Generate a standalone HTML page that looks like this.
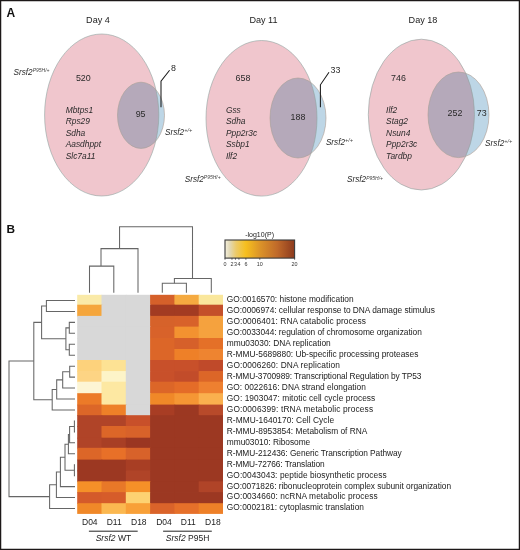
<!DOCTYPE html>
<html><head><meta charset="utf-8"><style>
html,body{margin:0;padding:0;background:#fff;}
body{width:520px;height:550px;overflow:hidden;}
svg{display:block;font-family:"Liberation Sans", sans-serif;will-change:transform;}
</style></head><body>
<svg width="520" height="550" viewBox="0 0 520 550">
<defs><clipPath id="cb0"><ellipse cx="101.7" cy="115" rx="57.1" ry="81"/></clipPath><clipPath id="cb1"><ellipse cx="261.5" cy="118.3" rx="55.5" ry="77.8"/></clipPath><clipPath id="cb2"><ellipse cx="421.4" cy="114.6" rx="53.1" ry="75.4"/></clipPath><linearGradient id="lg" x1="0" x2="1" y1="0" y2="0">
<stop offset="0" stop-color="#f4f0de"/>
<stop offset="0.07" stop-color="#e2d8b4"/>
<stop offset="0.16" stop-color="#ecca68"/>
<stop offset="0.3" stop-color="#f6bf1e"/>
<stop offset="0.5" stop-color="#dc9428"/>
<stop offset="0.75" stop-color="#c06a2a"/>
<stop offset="1" stop-color="#8c3a1e"/>
</linearGradient></defs>
<rect x="0" y="0" width="520" height="550" fill="#fff"/>
<ellipse cx="101.7" cy="115" rx="57.1" ry="81" fill="#f0c6cd"/>
<ellipse cx="141" cy="115.3" rx="23.5" ry="33.1" fill="#bdd6e6"/>
<ellipse cx="141" cy="115.3" rx="23.5" ry="33.1" fill="#b5a9ba" clip-path="url(#cb0)"/>
<ellipse cx="101.7" cy="115" rx="57.1" ry="81" fill="none" stroke="#8fa3a0" stroke-width="0.6"/>
<ellipse cx="141" cy="115.3" rx="23.5" ry="33.1" fill="none" stroke="#ad9c92" stroke-width="0.6"/>
<ellipse cx="261.5" cy="118.3" rx="55.5" ry="77.8" fill="#f0c6cd"/>
<ellipse cx="298" cy="118" rx="28" ry="40" fill="#bdd6e6"/>
<ellipse cx="298" cy="118" rx="28" ry="40" fill="#b5a9ba" clip-path="url(#cb1)"/>
<ellipse cx="261.5" cy="118.3" rx="55.5" ry="77.8" fill="none" stroke="#8fa3a0" stroke-width="0.6"/>
<ellipse cx="298" cy="118" rx="28" ry="40" fill="none" stroke="#ad9c92" stroke-width="0.6"/>
<ellipse cx="421.4" cy="114.6" rx="53.1" ry="75.4" fill="#f0c6cd"/>
<ellipse cx="458.5" cy="114.8" rx="30.5" ry="42.8" fill="#bdd6e6"/>
<ellipse cx="458.5" cy="114.8" rx="30.5" ry="42.8" fill="#b5a9ba" clip-path="url(#cb2)"/>
<ellipse cx="421.4" cy="114.6" rx="53.1" ry="75.4" fill="none" stroke="#8fa3a0" stroke-width="0.6"/>
<ellipse cx="458.5" cy="114.8" rx="30.5" ry="42.8" fill="none" stroke="#ad9c92" stroke-width="0.6"/>
<text x="6.5" y="16.6" font-size="12" text-anchor="start" fill="#111" font-weight="bold">A</text>
<text x="6.4" y="232.9" font-size="11.8" text-anchor="start" fill="#111" font-weight="bold">B</text>
<text x="98" y="22.8" font-size="9.1" text-anchor="middle" fill="#222">Day 4</text>
<text x="263.5" y="22.8" font-size="9.1" text-anchor="middle" fill="#222">Day 11</text>
<text x="423" y="22.8" font-size="9.1" text-anchor="middle" fill="#222">Day 18</text>
<text x="83.3" y="81" font-size="8.9" text-anchor="middle" fill="#2a2a2a">520</text>
<text x="140.6" y="116.8" font-size="8.9" text-anchor="middle" fill="#2a2a2a">95</text>
<text x="171.0" y="70.8" font-size="8.9" text-anchor="start" fill="#2a2a2a">8</text>
<text x="243" y="80.8" font-size="8.9" text-anchor="middle" fill="#2a2a2a">658</text>
<text x="298" y="119.6" font-size="8.9" text-anchor="middle" fill="#2a2a2a">188</text>
<text x="330.5" y="73" font-size="8.9" text-anchor="start" fill="#2a2a2a">33</text>
<text x="398.5" y="80.8" font-size="8.9" text-anchor="middle" fill="#2a2a2a">746</text>
<text x="455" y="116.4" font-size="8.9" text-anchor="middle" fill="#2a2a2a">252</text>
<text x="481.8" y="116.4" font-size="8.9" text-anchor="middle" fill="#2a2a2a">73</text>
<polyline points="169.6,70.2 161.0,81.2 161.0,107.3" fill="none" stroke="#1a1a1a" stroke-width="1.05"/>
<polyline points="329,72.2 320.4,84.8 320.4,107.3" fill="none" stroke="#1a1a1a" stroke-width="1.05"/>
<text x="65.7" y="112.9" font-size="8.4" text-anchor="start" fill="#2a2a2a" font-style="italic">Mbtps1</text>
<text x="65.7" y="124.4" font-size="8.4" text-anchor="start" fill="#2a2a2a" font-style="italic">Rps29</text>
<text x="65.7" y="135.9" font-size="8.4" text-anchor="start" fill="#2a2a2a" font-style="italic">Sdha</text>
<text x="65.7" y="147.4" font-size="8.4" text-anchor="start" fill="#2a2a2a" font-style="italic">Aasdhppt</text>
<text x="65.7" y="158.9" font-size="8.4" text-anchor="start" fill="#2a2a2a" font-style="italic">Slc7a11</text>
<text x="225.9" y="112.9" font-size="8.4" text-anchor="start" fill="#2a2a2a" font-style="italic">Gss</text>
<text x="225.9" y="124.4" font-size="8.4" text-anchor="start" fill="#2a2a2a" font-style="italic">Sdha</text>
<text x="225.9" y="135.9" font-size="8.4" text-anchor="start" fill="#2a2a2a" font-style="italic">Ppp2r3c</text>
<text x="225.9" y="147.4" font-size="8.4" text-anchor="start" fill="#2a2a2a" font-style="italic">Ssbp1</text>
<text x="225.9" y="158.9" font-size="8.4" text-anchor="start" fill="#2a2a2a" font-style="italic">Ilf2</text>
<text x="386.1" y="112.9" font-size="8.4" text-anchor="start" fill="#2a2a2a" font-style="italic">Ilf2</text>
<text x="386.1" y="124.4" font-size="8.4" text-anchor="start" fill="#2a2a2a" font-style="italic">Stag2</text>
<text x="386.1" y="135.9" font-size="8.4" text-anchor="start" fill="#2a2a2a" font-style="italic">Nsun4</text>
<text x="386.1" y="147.4" font-size="8.4" text-anchor="start" fill="#2a2a2a" font-style="italic">Ppp2r3c</text>
<text x="386.1" y="158.9" font-size="8.4" text-anchor="start" fill="#2a2a2a" font-style="italic">Tardbp</text>
<text x="13.5" y="75.2" font-size="8.2" font-style="italic" fill="#2a2a2a">Srsf2<tspan font-size="5" dy="-2.8" fill="#444">P95H/+</tspan></text>
<text x="165" y="134.8" font-size="8.2" font-style="italic" fill="#2a2a2a">Srsf2<tspan font-size="5.6" dy="-2.9" fill="#444">+/+</tspan></text>
<text x="184.7" y="181.5" font-size="8.2" font-style="italic" fill="#2a2a2a">Srsf2<tspan font-size="5" dy="-2.1" fill="#444">P95H/+</tspan></text>
<text x="325.9" y="144.9" font-size="8.2" font-style="italic" fill="#2a2a2a">Srsf2<tspan font-size="5.6" dy="-2.9" fill="#444">+/+</tspan></text>
<text x="347" y="182.1" font-size="8.2" font-style="italic" fill="#2a2a2a">Srsf2<tspan font-size="5" dy="-2.1" fill="#444">P95H/+</tspan></text>
<text x="485.1" y="145.8" font-size="8.2" font-style="italic" fill="#2a2a2a">Srsf2<tspan font-size="5.6" dy="-2.9" fill="#444">+/+</tspan></text>
<rect x="77.20" y="294.80" width="25.10" height="10.70" fill="#faeaa8"/>
<rect x="101.50" y="294.80" width="25.10" height="10.70" fill="#d8d8d8"/>
<rect x="125.80" y="294.80" width="25.10" height="10.70" fill="#d8d8d8"/>
<rect x="150.10" y="294.80" width="25.10" height="10.70" fill="#d5602a"/>
<rect x="174.40" y="294.80" width="25.10" height="10.70" fill="#f5aa40"/>
<rect x="198.70" y="294.80" width="24.30" height="10.70" fill="#fae79c"/>
<text x="226.8" y="302.38" font-size="8.35" text-anchor="start" fill="#222" textLength="126.87" lengthAdjust="spacing">GO:0016570: histone modification</text>
<rect x="77.20" y="304.70" width="25.10" height="12.00" fill="#f5a63c"/>
<rect x="101.50" y="304.70" width="25.10" height="12.00" fill="#d8d8d8"/>
<rect x="125.80" y="304.70" width="25.10" height="12.00" fill="#d8d8d8"/>
<rect x="150.10" y="304.70" width="25.10" height="12.00" fill="#a33b22"/>
<rect x="174.40" y="304.70" width="25.10" height="12.00" fill="#a33b22"/>
<rect x="198.70" y="304.70" width="24.30" height="12.00" fill="#c4502a"/>
<text x="226.8" y="313.32" font-size="8.35" text-anchor="start" fill="#222" textLength="208.04" lengthAdjust="spacing">GO:0006974: cellular response to DNA damage stimulus</text>
<rect x="77.20" y="315.90" width="25.10" height="11.50" fill="#d8d8d8"/>
<rect x="101.50" y="315.90" width="25.10" height="11.50" fill="#d8d8d8"/>
<rect x="125.80" y="315.90" width="25.10" height="11.50" fill="#d8d8d8"/>
<rect x="150.10" y="315.90" width="25.10" height="11.50" fill="#d6622a"/>
<rect x="174.40" y="315.90" width="25.10" height="11.50" fill="#d8622a"/>
<rect x="198.70" y="315.90" width="24.30" height="11.50" fill="#f5a23e"/>
<text x="226.8" y="324.27" font-size="8.35" text-anchor="start" fill="#222" textLength="139.16" lengthAdjust="spacing">GO:0006401: RNA catabolic process</text>
<rect x="77.20" y="326.60" width="25.10" height="12.20" fill="#d8d8d8"/>
<rect x="101.50" y="326.60" width="25.10" height="12.20" fill="#d8d8d8"/>
<rect x="125.80" y="326.60" width="25.10" height="12.20" fill="#d8d8d8"/>
<rect x="150.10" y="326.60" width="25.10" height="12.20" fill="#d8622a"/>
<rect x="174.40" y="326.60" width="25.10" height="12.20" fill="#f39230"/>
<rect x="198.70" y="326.60" width="24.30" height="12.20" fill="#f5a23e"/>
<text x="226.8" y="335.23" font-size="8.35" text-anchor="start" fill="#222" textLength="194.97" lengthAdjust="spacing">GO:0033044: regulation of chromosome organization</text>
<rect x="77.20" y="338.00" width="25.10" height="11.80" fill="#d8d8d8"/>
<rect x="101.50" y="338.00" width="25.10" height="11.80" fill="#d8d8d8"/>
<rect x="125.80" y="338.00" width="25.10" height="11.80" fill="#d8d8d8"/>
<rect x="150.10" y="338.00" width="25.10" height="11.80" fill="#dc6628"/>
<rect x="174.40" y="338.00" width="25.10" height="11.80" fill="#d6602a"/>
<rect x="198.70" y="338.00" width="24.30" height="11.80" fill="#e47028"/>
<text x="226.8" y="346.18" font-size="8.35" text-anchor="start" fill="#222" textLength="103.89" lengthAdjust="spacing">mmu03030: DNA replication</text>
<rect x="77.20" y="349.00" width="25.10" height="11.80" fill="#d8d8d8"/>
<rect x="101.50" y="349.00" width="25.10" height="11.80" fill="#d8d8d8"/>
<rect x="125.80" y="349.00" width="25.10" height="11.80" fill="#d8d8d8"/>
<rect x="150.10" y="349.00" width="25.10" height="11.80" fill="#dc6628"/>
<rect x="174.40" y="349.00" width="25.10" height="11.80" fill="#ee8028"/>
<rect x="198.70" y="349.00" width="24.30" height="11.80" fill="#ee8430"/>
<text x="226.8" y="357.12" font-size="8.35" text-anchor="start" fill="#222" textLength="191.53" lengthAdjust="spacing">R-MMU-5689880: Ub-specific processing proteases</text>
<rect x="77.20" y="360.00" width="25.10" height="11.90" fill="#fdd27c"/>
<rect x="101.50" y="360.00" width="25.10" height="11.90" fill="#fde294"/>
<rect x="125.80" y="360.00" width="25.10" height="11.90" fill="#d8d8d8"/>
<rect x="150.10" y="360.00" width="25.10" height="11.90" fill="#c8502a"/>
<rect x="174.40" y="360.00" width="25.10" height="11.90" fill="#c8502a"/>
<rect x="198.70" y="360.00" width="24.30" height="11.90" fill="#c04a2a"/>
<text x="226.8" y="368.07" font-size="8.35" text-anchor="start" fill="#222" textLength="113.04" lengthAdjust="spacing">GO:0006260: DNA replication</text>
<rect x="77.20" y="371.10" width="25.10" height="11.40" fill="#fdd484"/>
<rect x="101.50" y="371.10" width="25.10" height="11.40" fill="#fdf4c8"/>
<rect x="125.80" y="371.10" width="25.10" height="11.40" fill="#d8d8d8"/>
<rect x="150.10" y="371.10" width="25.10" height="11.40" fill="#c8502a"/>
<rect x="174.40" y="371.10" width="25.10" height="11.40" fill="#c24c2a"/>
<rect x="198.70" y="371.10" width="24.30" height="11.40" fill="#dc6628"/>
<text x="226.8" y="379.02" font-size="8.35" text-anchor="start" fill="#222" textLength="194.64" lengthAdjust="spacing">R-MMU-3700989: Transcriptional Regulation by TP53</text>
<rect x="77.20" y="381.70" width="25.10" height="12.30" fill="#fdf5d4"/>
<rect x="101.50" y="381.70" width="25.10" height="12.30" fill="#fde8a2"/>
<rect x="125.80" y="381.70" width="25.10" height="12.30" fill="#d8d8d8"/>
<rect x="150.10" y="381.70" width="25.10" height="12.30" fill="#dc6628"/>
<rect x="174.40" y="381.70" width="25.10" height="12.30" fill="#e46c28"/>
<rect x="198.70" y="381.70" width="24.30" height="12.30" fill="#ee8030"/>
<text x="226.8" y="389.98" font-size="8.35" text-anchor="start" fill="#222" textLength="139.03" lengthAdjust="spacing">GO: 0022616: DNA strand elongation</text>
<rect x="77.20" y="393.20" width="25.10" height="12.20" fill="#ec7a28"/>
<rect x="101.50" y="393.20" width="25.10" height="12.20" fill="#fde8a2"/>
<rect x="125.80" y="393.20" width="25.10" height="12.20" fill="#d8d8d8"/>
<rect x="150.10" y="393.20" width="25.10" height="12.20" fill="#f08828"/>
<rect x="174.40" y="393.20" width="25.10" height="12.20" fill="#f59634"/>
<rect x="198.70" y="393.20" width="24.30" height="12.20" fill="#fab04e"/>
<text x="226.8" y="400.93" font-size="8.35" text-anchor="start" fill="#222" textLength="148.45" lengthAdjust="spacing">GO: 1903047: mitotic cell cycle process</text>
<rect x="77.20" y="404.60" width="25.10" height="11.40" fill="#dc6628"/>
<rect x="101.50" y="404.60" width="25.10" height="11.40" fill="#ee8028"/>
<rect x="125.80" y="404.60" width="25.10" height="11.40" fill="#d8d8d8"/>
<rect x="150.10" y="404.60" width="25.10" height="11.40" fill="#a83d24"/>
<rect x="174.40" y="404.60" width="25.10" height="11.40" fill="#9c3822"/>
<rect x="198.70" y="404.60" width="24.30" height="11.40" fill="#b84a2a"/>
<text x="226.8" y="411.88" font-size="8.35" text-anchor="start" fill="#222" textLength="146.25" lengthAdjust="spacing">GO:0006399: tRNA metabolic process</text>
<rect x="77.20" y="415.20" width="25.10" height="11.60" fill="#b04428"/>
<rect x="101.50" y="415.20" width="25.10" height="11.60" fill="#b04428"/>
<rect x="125.80" y="415.20" width="25.10" height="11.60" fill="#c8502a"/>
<rect x="150.10" y="415.20" width="25.10" height="11.60" fill="#9c3822"/>
<rect x="174.40" y="415.20" width="25.10" height="11.60" fill="#9c3822"/>
<rect x="198.70" y="415.20" width="24.30" height="11.60" fill="#9c3822"/>
<text x="226.8" y="422.82" font-size="8.35" text-anchor="start" fill="#222" textLength="107.29" lengthAdjust="spacing">R-MMU-1640170: Cell Cycle</text>
<rect x="77.20" y="426.00" width="25.10" height="12.50" fill="#b04428"/>
<rect x="101.50" y="426.00" width="25.10" height="12.50" fill="#dc6628"/>
<rect x="125.80" y="426.00" width="25.10" height="12.50" fill="#d8622a"/>
<rect x="150.10" y="426.00" width="25.10" height="12.50" fill="#9c3822"/>
<rect x="174.40" y="426.00" width="25.10" height="12.50" fill="#9c3822"/>
<rect x="198.70" y="426.00" width="24.30" height="12.50" fill="#9c3822"/>
<text x="226.8" y="433.77" font-size="8.35" text-anchor="start" fill="#222" textLength="140.60" lengthAdjust="spacing">R-MMU-8953854: Metabolism of RNA</text>
<rect x="77.20" y="437.70" width="25.10" height="10.90" fill="#b04428"/>
<rect x="101.50" y="437.70" width="25.10" height="10.90" fill="#a83f25"/>
<rect x="125.80" y="437.70" width="25.10" height="10.90" fill="#9a3622"/>
<rect x="150.10" y="437.70" width="25.10" height="10.90" fill="#9c3822"/>
<rect x="174.40" y="437.70" width="25.10" height="10.90" fill="#9c3822"/>
<rect x="198.70" y="437.70" width="24.30" height="10.90" fill="#9c3822"/>
<text x="226.8" y="444.73" font-size="8.35" text-anchor="start" fill="#222" textLength="83.45" lengthAdjust="spacing">mmu03010: Ribosome</text>
<rect x="77.20" y="447.80" width="25.10" height="12.60" fill="#dc6628"/>
<rect x="101.50" y="447.80" width="25.10" height="12.60" fill="#e87028"/>
<rect x="125.80" y="447.80" width="25.10" height="12.60" fill="#d8622a"/>
<rect x="150.10" y="447.80" width="25.10" height="12.60" fill="#9c3822"/>
<rect x="174.40" y="447.80" width="25.10" height="12.60" fill="#9c3822"/>
<rect x="198.70" y="447.80" width="24.30" height="12.60" fill="#9c3822"/>
<text x="226.8" y="455.67" font-size="8.35" text-anchor="start" fill="#222" textLength="174.91" lengthAdjust="spacing">R-MMU-212436: Generic Transcription Pathway</text>
<rect x="77.20" y="459.60" width="25.10" height="11.70" fill="#9c3822"/>
<rect x="101.50" y="459.60" width="25.10" height="11.70" fill="#9c3822"/>
<rect x="125.80" y="459.60" width="25.10" height="11.70" fill="#a83e24"/>
<rect x="150.10" y="459.60" width="25.10" height="11.70" fill="#9c3822"/>
<rect x="174.40" y="459.60" width="25.10" height="11.70" fill="#9c3822"/>
<rect x="198.70" y="459.60" width="24.30" height="11.70" fill="#9c3822"/>
<text x="226.8" y="466.62" font-size="8.35" text-anchor="start" fill="#222" textLength="97.77" lengthAdjust="spacing">R-MMU-72766: Translation</text>
<rect x="77.20" y="470.50" width="25.10" height="11.60" fill="#9c3822"/>
<rect x="101.50" y="470.50" width="25.10" height="11.60" fill="#9c3822"/>
<rect x="125.80" y="470.50" width="25.10" height="11.60" fill="#b04428"/>
<rect x="150.10" y="470.50" width="25.10" height="11.60" fill="#9c3822"/>
<rect x="174.40" y="470.50" width="25.10" height="11.60" fill="#9c3822"/>
<rect x="198.70" y="470.50" width="24.30" height="11.60" fill="#9c3822"/>
<text x="226.8" y="477.57" font-size="8.35" text-anchor="start" fill="#222" textLength="159.82" lengthAdjust="spacing">GO:0043043: peptide biosynthetic process</text>
<rect x="77.20" y="481.30" width="25.10" height="11.60" fill="#f59028"/>
<rect x="101.50" y="481.30" width="25.10" height="11.60" fill="#e87828"/>
<rect x="125.80" y="481.30" width="25.10" height="11.60" fill="#f59028"/>
<rect x="150.10" y="481.30" width="25.10" height="11.60" fill="#9c3822"/>
<rect x="174.40" y="481.30" width="25.10" height="11.60" fill="#9c3822"/>
<rect x="198.70" y="481.30" width="24.30" height="11.60" fill="#b04428"/>
<text x="226.8" y="488.52" font-size="8.35" text-anchor="start" fill="#222" textLength="224.23" lengthAdjust="spacing">GO:0071826: ribonucleoprotein complex subunit organization</text>
<rect x="77.20" y="492.10" width="25.10" height="11.90" fill="#d45a2a"/>
<rect x="101.50" y="492.10" width="25.10" height="11.90" fill="#d65c2a"/>
<rect x="125.80" y="492.10" width="25.10" height="11.90" fill="#fdd272"/>
<rect x="150.10" y="492.10" width="25.10" height="11.90" fill="#9c3822"/>
<rect x="174.40" y="492.10" width="25.10" height="11.90" fill="#9c3822"/>
<rect x="198.70" y="492.10" width="24.30" height="11.90" fill="#9c3822"/>
<text x="226.8" y="499.48" font-size="8.35" text-anchor="start" fill="#222" textLength="150.95" lengthAdjust="spacing">GO:0034660: ncRNA metabolic process</text>
<rect x="77.20" y="503.20" width="25.10" height="10.70" fill="#f08828"/>
<rect x="101.50" y="503.20" width="25.10" height="10.70" fill="#fbb850"/>
<rect x="125.80" y="503.20" width="25.10" height="10.70" fill="#f8a038"/>
<rect x="150.10" y="503.20" width="25.10" height="10.70" fill="#da632a"/>
<rect x="174.40" y="503.20" width="25.10" height="10.70" fill="#e6702a"/>
<rect x="198.70" y="503.20" width="24.30" height="10.70" fill="#ee8028"/>
<text x="226.8" y="510.42" font-size="8.35" text-anchor="start" fill="#222" textLength="137.13" lengthAdjust="spacing">GO:0002181: cytoplasmic translation</text>
<polyline points="119.55,248.6 119.55,226.7 192.5,226.7 192.5,278.4" fill="none" stroke="#666" stroke-width="1.05"/>
<polyline points="101,266.1 101,248.6 138.0,248.6 138.0,292.7" fill="none" stroke="#666" stroke-width="1.05"/>
<polyline points="89.5,292.7 89.5,266.1 113.8,266.1 113.8,292.7" fill="none" stroke="#666" stroke-width="1.05"/>
<polyline points="174.4,283.3 174.4,278.4 211.3,278.4 211.3,292.7" fill="none" stroke="#666" stroke-width="1.05"/>
<polyline points="162.3,292.7 162.3,283.3 186.4,283.3 186.4,292.7" fill="none" stroke="#666" stroke-width="1.05"/>
<polyline points="75.0,300.475 46.4,300.475 46.4,311.425 75.0,311.425" fill="none" stroke="#666" stroke-width="1.05"/>
<polyline points="75.0,322.375 69.3,322.375 69.3,333.325 75.0,333.325" fill="none" stroke="#666" stroke-width="1.05"/>
<polyline points="75.0,344.275 69.3,344.275 69.3,355.225 75.0,355.225" fill="none" stroke="#666" stroke-width="1.05"/>
<polyline points="69.3,327.85 65.9,327.85 65.9,349.75 69.3,349.75" fill="none" stroke="#666" stroke-width="1.05"/>
<polyline points="46.4,305.95000000000005 41.6,305.95000000000005 41.6,338.8 65.9,338.8" fill="none" stroke="#666" stroke-width="1.05"/>
<polyline points="75.0,366.175 69.7,366.175 69.7,377.125 75.0,377.125" fill="none" stroke="#666" stroke-width="1.05"/>
<polyline points="69.7,371.65 62.7,371.65 62.7,388.075 75.0,388.075" fill="none" stroke="#666" stroke-width="1.05"/>
<polyline points="62.7,379.86249999999995 56.7,379.86249999999995 56.7,399.025 75.0,399.025" fill="none" stroke="#666" stroke-width="1.05"/>
<polyline points="56.7,389.44374999999997 52.2,389.44374999999997 52.2,409.975 75.0,409.975" fill="none" stroke="#666" stroke-width="1.05"/>
<polyline points="41.6,322.375 33.8,322.375 33.8,399.709375 52.2,399.709375" fill="none" stroke="#666" stroke-width="1.05"/>
<polyline points="75.0,420.925 74.4,420.925 74.4,431.875 75.0,431.875" fill="none" stroke="#666" stroke-width="1.05"/>
<polyline points="74.4,426.4 69.6,426.4 69.6,442.825 75.0,442.825" fill="none" stroke="#666" stroke-width="1.05"/>
<polyline points="69.6,434.61249999999995 68.4,434.61249999999995 68.4,453.775 75.0,453.775" fill="none" stroke="#666" stroke-width="1.05"/>
<polyline points="75.0,464.725 74.4,464.725 74.4,475.67499999999995 75.0,475.67499999999995" fill="none" stroke="#666" stroke-width="1.05"/>
<polyline points="68.4,444.19374999999997 65.0,444.19374999999997 65.0,470.2 74.4,470.2" fill="none" stroke="#666" stroke-width="1.05"/>
<polyline points="65.0,457.196875 60.4,457.196875 60.4,486.625 75.0,486.625" fill="none" stroke="#666" stroke-width="1.05"/>
<polyline points="60.4,471.9109375 56.4,471.9109375 56.4,497.575 75.0,497.575" fill="none" stroke="#666" stroke-width="1.05"/>
<polyline points="56.4,484.74296875 49.6,484.74296875 49.6,508.525 75.0,508.525" fill="none" stroke="#666" stroke-width="1.05"/>
<polyline points="33.8,361.0421875 9.0,361.0421875 9.0,496.63398437499995 49.6,496.63398437499995" fill="none" stroke="#666" stroke-width="1.05"/>
<rect x="225.0" y="240.0" width="69.60000000000002" height="18.100000000000023" fill="url(#lg)" stroke="#3a3a3a" stroke-width="1.1"/>
<text x="259.6" y="237.2" font-size="7.0" text-anchor="middle" fill="#222">-log10(P)</text>
<line x1="225.00" y1="258.1" x2="225.00" y2="259.70000000000005" stroke="#333" stroke-width="0.8"/>
<text x="225.0" y="265.8" font-size="5.4" text-anchor="middle" fill="#333">0</text>
<line x1="231.96" y1="258.1" x2="231.96" y2="259.70000000000005" stroke="#333" stroke-width="0.8"/>
<text x="231.96" y="265.8" font-size="5.4" text-anchor="middle" fill="#333">2</text>
<line x1="235.44" y1="258.1" x2="235.44" y2="259.70000000000005" stroke="#333" stroke-width="0.8"/>
<text x="235.44" y="265.8" font-size="5.4" text-anchor="middle" fill="#333">3</text>
<line x1="238.92" y1="258.1" x2="238.92" y2="259.70000000000005" stroke="#333" stroke-width="0.8"/>
<text x="238.92" y="265.8" font-size="5.4" text-anchor="middle" fill="#333">4</text>
<line x1="245.88" y1="258.1" x2="245.88" y2="259.70000000000005" stroke="#333" stroke-width="0.8"/>
<text x="245.88" y="265.8" font-size="5.4" text-anchor="middle" fill="#333">6</text>
<line x1="259.80" y1="258.1" x2="259.80" y2="259.70000000000005" stroke="#333" stroke-width="0.8"/>
<text x="259.8" y="265.8" font-size="5.4" text-anchor="middle" fill="#333">10</text>
<line x1="294.60" y1="258.1" x2="294.60" y2="259.70000000000005" stroke="#333" stroke-width="0.8"/>
<text x="294.6" y="265.8" font-size="5.4" text-anchor="middle" fill="#333">20</text>
<text x="89.8" y="524.6" font-size="8.5" text-anchor="middle" fill="#222">D04</text>
<text x="114.2" y="524.6" font-size="8.5" text-anchor="middle" fill="#222">D11</text>
<text x="138.8" y="524.6" font-size="8.5" text-anchor="middle" fill="#222">D18</text>
<text x="164.0" y="524.6" font-size="8.5" text-anchor="middle" fill="#222">D04</text>
<text x="188.3" y="524.6" font-size="8.5" text-anchor="middle" fill="#222">D11</text>
<text x="212.9" y="524.6" font-size="8.5" text-anchor="middle" fill="#222">D18</text>
<line x1="88.9" y1="531.2" x2="137.7" y2="531.2" stroke="#222" stroke-width="1"/>
<line x1="163.1" y1="531.2" x2="211.8" y2="531.2" stroke="#222" stroke-width="1"/>
<text x="113.4" y="540.9" font-size="8.5" text-anchor="middle" fill="#222"><tspan font-style="italic">Srsf2</tspan> WT</text>
<text x="187.6" y="540.6" font-size="8.5" text-anchor="middle" fill="#222"><tspan font-style="italic">Srsf2</tspan> P95H</text>
<rect x="0.6" y="0.6" width="518.8" height="548.8" fill="none" stroke="#1c1818" stroke-width="1.3"/>
</svg>
</body></html>
